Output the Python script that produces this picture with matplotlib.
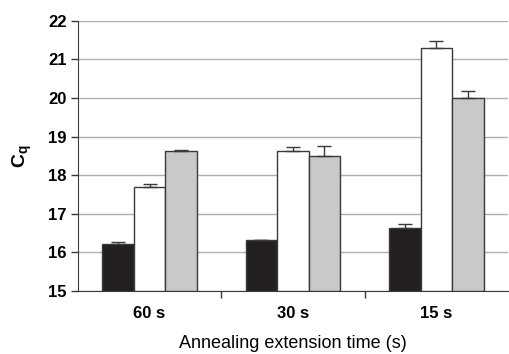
import numpy as np
import matplotlib
matplotlib.use('Agg')
import matplotlib.pyplot as plt

plt.rcParams['font.family'] = ['Liberation Sans', 'DejaVu Sans']
plt.rcParams['mathtext.fontset'] = 'custom'
plt.rcParams['mathtext.rm'] = 'Liberation Sans'
plt.rcParams['mathtext.bf'] = 'Liberation Sans:bold'

groups = ['60 s', '30 s', '15 s']
black_vals = [16.21, 16.31, 16.62]
black_err = [0.05, 0.02, 0.11]
white_vals = [17.70, 18.62, 21.29]
white_err = [0.07, 0.12, 0.19]
gray_vals = [18.62, 18.51, 20.00]
gray_err = [0.04, 0.26, 0.17]

fig = plt.figure(figsize=(5.09, 3.54), dpi=100)
ax = fig.add_axes([0.153, 0.178, 0.845, 0.763])

x = np.arange(len(groups))
w = 0.22
series = [(black_vals, black_err, '#231f20'),
          (white_vals, white_err, '#ffffff'),
          (gray_vals, gray_err, '#c8c9cb')]
for i, (vals, err, col) in enumerate(series):
    pos = x + (i - 1) * w
    ax.bar(pos, np.array(vals) - 15, bottom=15, width=w, color=col,
           edgecolor='#3a3a3a', linewidth=1.0, zorder=3)
    ax.errorbar(pos, vals, yerr=[np.zeros(len(vals)), err], fmt='none',
                ecolor='#3a3a3a', elinewidth=1.0, capsize=5, capthick=1.0, zorder=4)

ax.set_ylim(15, 22)
ax.set_xlim(-0.5, 2.5)
ax.set_yticks(range(15, 23))
ax.yaxis.grid(True, color='#b0b0b0', linewidth=1.0, zorder=0)
ax.set_axisbelow(True)

ax.set_xticks(x)
ax.set_xticklabels(groups, fontsize=12, fontweight='bold')
ax.tick_params(axis='x', which='major', length=0, pad=11)
ax.set_xticks([0.5, 1.5], minor=True)
ax.tick_params(axis='x', which='minor', length=5, width=1, color='#3a3a3a')
ax.tick_params(axis='y', length=5, width=1, color='#3a3a3a', labelsize=12, pad=3)
for lab in ax.get_yticklabels():
    lab.set_fontweight('bold')

for s in ['top', 'right']:
    ax.spines[s].set_visible(False)
ax.spines['left'].set_color('#3a3a3a')
ax.spines['bottom'].set_color('#3a3a3a')

ax.set_ylabel(r'$\mathbf{C}_\mathbf{q}$', fontsize=14, labelpad=10)
ax.set_xlabel('Annealing extension time (s)', fontsize=13, labelpad=10)

fig.savefig('out.png', dpi=100)
